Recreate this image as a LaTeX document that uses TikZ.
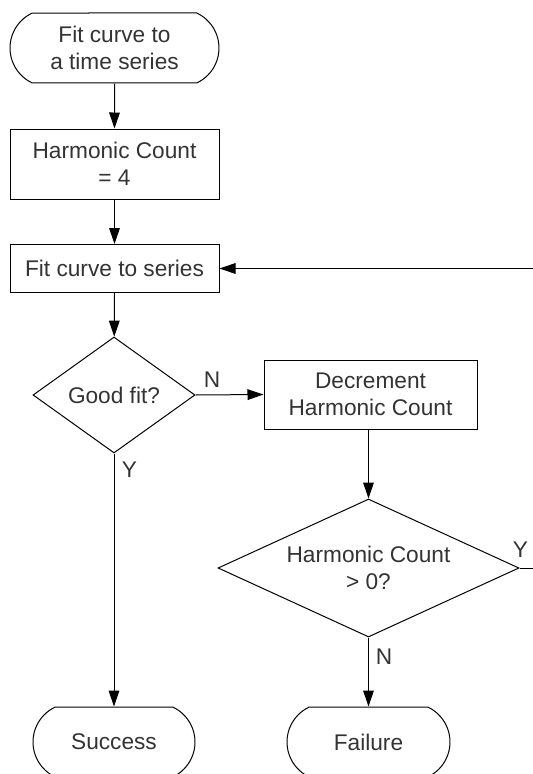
\documentclass[tikz,border=0pt]{standalone}
\usepackage{fontspec}
\setmainfont{Liberation Sans}
\usetikzlibrary{shapes.geometric,shapes.misc,arrows.meta}
\definecolor{txt}{HTML}{333333}
\tikzset{
  base/.style={draw=black, line width=0.75pt, text=txt, font=\fontsize{17}{20.5}\selectfont, align=center, inner sep=0pt},
  term/.style={base, rounded rectangle, rounded rectangle arc length=130, minimum height=52.5pt},
  proc/.style={base, rectangle},
  dec/.style={base, diamond},
  conn/.style={line width=0.75pt, draw=black, -{Triangle[length=12pt,width=8pt]}},
  lbl/.style={text=txt, font=\fontsize{17}{20}\selectfont, inner sep=0pt}
}
\begin{document}
\begin{tikzpicture}[x=0.75pt,y=-0.75pt]
\useasboundingbox (0,0) rectangle (532,774);
\node[term, minimum width=156.75pt] (start) at (114.5,48) {Fit curve to\\a time series};
\node[proc, minimum width=156.75pt, minimum height=52.5pt] (init) at (114.5,164) {Harmonic Count\\= 4};
\node[proc, minimum width=156.75pt, minimum height=36pt] (fit) at (114.5,268.5) {Fit curve to series};
\node[dec, aspect=1.4, minimum width=121.5pt, minimum height=87pt] (good) at (114,395) {Good fit?};
\node[proc, minimum width=159.75pt, minimum height=51.75pt] (decr) at (370.5,394.5) {Decrement\\Harmonic Count};
\node[dec, aspect=2.18, minimum width=225.75pt, minimum height=103.5pt] (pos) at (368.5,568) {Harmonic Count\\> 0?};
\node[term, minimum width=121.5pt] (succ) at (114,742) {Success};
\node[term, minimum width=122.25pt] (fail) at (368.5,742) {Failure};
\coordinate (c1) at (533.5,568);
\coordinate (c2) at (533.5,268.5);
\draw[conn] (start) -- (init);
\draw[conn] (init) -- (fit);
\draw[conn] (fit) -- (good);
\draw[conn] (good.east) -- (decr.west);
\draw[conn] (good.south) -- (succ.north);
\draw[conn] (decr.south -| pos.north) -- (pos.north);
\draw[conn] (pos.south) -- (fail.north);
\draw[conn] (pos.east) -- (c1) -- (c2) -- (fit.east);
\node[lbl] (ln1) at (212,380) {N};
\node[lbl] (ly1) at (129.5,470) {Y};
\node[lbl] (ly2) at (520.5,550) {Y};
\node[lbl] (ln2) at (384,657) {N};
\end{tikzpicture}
\end{document}
